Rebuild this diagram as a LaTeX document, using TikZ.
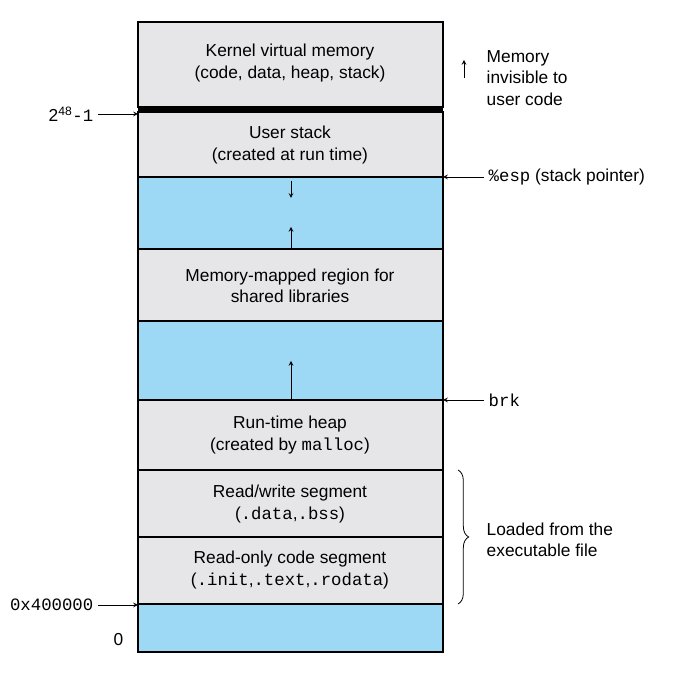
\documentclass[tikz,border=0pt]{standalone}
\usepackage{fontspec}
\setmainfont{Liberation Sans}
\setmonofont{Liberation Mono}
\usetikzlibrary{decorations.pathreplacing}
\definecolor{segGray}{HTML}{E6E6E8}
\definecolor{segBlue}{HTML}{9DD8F5}
\tikzset{
  seg/.style={draw,fill=segGray,line width=0.8pt},
  gap/.style={draw,fill=segBlue,line width=0.8pt},
  lbl/.style={align=center,font=\fontsize{13}{16}\selectfont},
  ptr/.style={->,>=stealth,line width=0.6pt}
}
\begin{document}
\begin{tikzpicture}[x=0.75pt,y=-0.75pt]
  \useasboundingbox (0,0) rectangle (694,680);
  % regions
  \filldraw[seg] (138,22) rectangle (443,107);
  \fill (138,107) rectangle (443,112);
  \filldraw[seg] (138,112) rectangle (443,177);
  \filldraw[gap] (138,177) rectangle (443,249);
  \filldraw[seg] (138,249) rectangle (443,321);
  \filldraw[gap] (138,321) rectangle (443,400);
  \filldraw[seg] (138,400) rectangle (443,470);
  \filldraw[seg] (138,470) rectangle (443,537);
  \filldraw[seg] (138,537) rectangle (443,604);
  \filldraw[gap] (138,604) rectangle (443,652);
  %labels inside
  \node[lbl] (kernel) at (290,63) {Kernel virtual memory\\(code, data, heap, stack)};
  \node[lbl] (ustack) at (290,145) {User stack\\(created at run time)};
  \node[lbl] (mmap) at (290,286) {Memory-mapped region for\\shared libraries};
  \node[lbl] (heap) at (290,435) {Run-time heap\\(created by \texttt{malloc})};
  \node[lbl] (rw) at (290,504) {Read/write segment\\(\texttt{.data},\texttt{.bss})};
  \node[lbl] (ro) at (290,570) {Read-only code segment\\(\texttt{.init},\texttt{.text},\texttt{.rodata})};
  %growth arrows
  \coordinate (sd1) at (291,181); \coordinate (sd2) at (291,198);
  \coordinate (su1) at (291,249); \coordinate (su2) at (291,227);
  \coordinate (hu1) at (291,400); \coordinate (hu2) at (291,361);
  \draw[ptr] (sd1) -- (sd2);
  \draw[ptr] (su1) -- (su2);
  \draw[ptr] (hu1) -- (hu2);
  %left addresses
  \node[lbl,anchor=east] (top) at (98,114) {2\textsuperscript{48}\texttt{-1}};
  \node[lbl,anchor=east] (start) at (98,605) {\texttt{0x400000}};
  \node[lbl,anchor=east] (zero) at (128,640) {0};
  \coordinate (topE) at (138,114); \coordinate (startE) at (138,605);
  \draw[ptr] (top) -- (topE);
  \draw[ptr] (start) -- (startE);
  %right side
  \node[lbl,anchor=west] (esp) at (484,177) {\texttt{\%esp} (stack pointer)};
  \node[lbl,anchor=west] (brk) at (484,400) {\texttt{brk}};
  \coordinate (espE) at (443,177); \coordinate (brkE) at (443,400);
  \draw[ptr] (esp) -- (espE);
  \draw[ptr] (brk) -- (brkE);
  \node[lbl,anchor=west,align=left] (invis) at (482,78) {Memory\\invisible to\\user code};
  \coordinate (iv1) at (464,78); \coordinate (iv2) at (464,60);
  \draw[ptr] (iv1) -- (iv2);
  \node[lbl,anchor=west,align=left] (loaded) at (482,540) {Loaded from the\\executable file};
  \draw[decorate,decoration={brace,amplitude=8pt},line width=0.6pt] (458,470) -- (458,604);
\end{tikzpicture}
\end{document}
